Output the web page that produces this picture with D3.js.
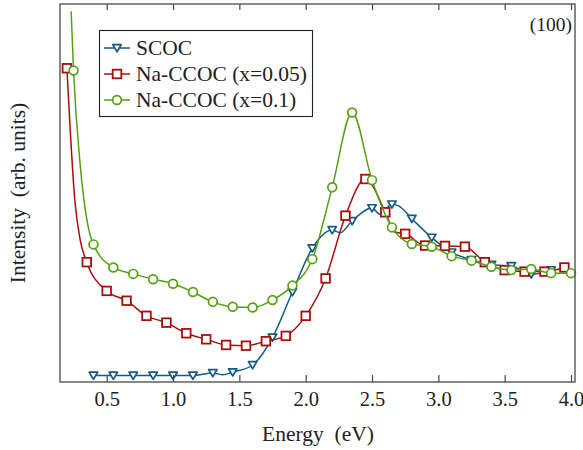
<!DOCTYPE html>
<html><head><meta charset="utf-8">
<script src="https://cdn.jsdelivr.net/npm/d3@7"></script>
<style>
body{margin:0;background:#fff;}
svg{display:block;}
svg text{font-family:"Liberation Serif","DejaVu Serif",serif;fill:#222;}
</style>
</head><body>
<svg id="c" width="583" height="450"></svg>
<script>
// ---- data ----
const xTicks = [0.5, 1.0, 1.5, 2.0, 2.5, 3.0, 3.5, 4.0];
const seriesNames = ["SCOC", "Na-CCOC (x=0.05)", "Na-CCOC (x=0.1)"];

// SCOC markers
const scocE = [0.40,0.55,0.70,0.85,1.00,1.15,1.30,1.45,1.60,1.75,1.90,2.05,2.20,2.35,2.50,2.65,2.80,2.95,3.10,3.25,3.40,3.55,3.70,3.85];
const scocI = [0.017,0.017,0.017,0.017,0.017,0.017,0.024,0.026,0.045,0.118,0.238,0.354,0.402,0.426,0.460,0.470,0.432,0.382,0.343,0.323,0.310,0.307,0.285,0.296];
// extra (unmarked) line points
const scocLineE = [1.375, 2.26, 2.56, 2.70];
const scocLineI = [0.019, 0.395, 0.444, 0.466];

// Na-CCOC x=0.05 markers
const na05E = [0.20,0.35,0.50,0.65,0.80,0.95,1.10,1.25,1.40,1.55,1.70,1.85,2.00,2.15,2.30,2.45,2.60,2.75,2.90,3.05,3.20,3.35,3.50,3.65,3.80,3.95];
const na05I = [0.830,0.317,0.241,0.215,0.175,0.157,0.129,0.113,0.098,0.096,0.108,0.122,0.175,0.274,0.440,0.537,0.449,0.392,0.361,0.360,0.358,0.317,0.296,0.292,0.292,0.303];
const na05LineE = [0.225, 0.26, 0.30, 2.67];
const na05LineI = [0.667, 0.480, 0.376, 0.397];

// Na-CCOC x=0.1 markers
const na10E = [0.25,0.40,0.55,0.70,0.85,1.00,1.15,1.30,1.45,1.60,1.75,1.90,2.05,2.20,2.35,2.50,2.65,2.80,2.95,3.10,3.25,3.40,3.55,3.70,3.85,4.00];
const na10I = [0.824,0.364,0.303,0.286,0.272,0.260,0.238,0.212,0.199,0.197,0.217,0.255,0.325,0.515,0.713,0.534,0.409,0.365,0.358,0.333,0.321,0.305,0.296,0.299,0.288,0.288];
const na10LineE = [0.232, 0.30, 0.35];
const na10LineI = [0.981, 0.575, 0.430];

const colors = ["#135a84", "#a5100f", "#55a114"];

// ---- chart ----
const svg = d3.select("#c");
const L = 60, R = 575, T = 4, B = 382;
const x = d3.scaleLinear().domain([0.148, 4.03]).range([L, R]);
const y = d3.scaleLinear().domain([0, 1]).range([B, T]);

function merge(e, v, le, lv) {
  const pts = e.map((d, i) => [d, v[i]]).concat(le.map((d, i) => [d, lv[i]]));
  return pts.sort((a, b) => a[0] - b[0]);
}
const series = [
  {name: seriesNames[0], color: colors[0], marker: "tri", m: scocE.map((d,i)=>[d,scocI[i]]), line: merge(scocE, scocI, scocLineE, scocLineI)},
  {name: seriesNames[1], color: colors[1], marker: "sq", m: na05E.map((d,i)=>[d,na05I[i]]), line: merge(na05E, na05I, na05LineE, na05LineI)},
  {name: seriesNames[2], color: colors[2], marker: "circ", m: na10E.map((d,i)=>[d,na10I[i]]), line: merge(na10E, na10I, na10LineE, na10LineI)}
];

const line = d3.line().x(d => x(d[0])).y(d => y(d[1])).curve(d3.curveMonotoneX);

function drawMarker(g, type, cx, cy, color) {
  if (type === "tri") {
    const s = 4.2;
    g.append("path").attr("d", `M${cx-s},${cy-s*0.8}L${cx+s},${cy-s*0.8}L${cx},${cy+s*0.9}Z`)
      .attr("fill", "#fff").attr("stroke", color).attr("stroke-width", 1.7).attr("stroke-linejoin","round");
  } else if (type === "sq") {
    g.append("rect").attr("x", cx-4.3).attr("y", cy-4.3).attr("width", 8.6).attr("height", 8.6)
      .attr("fill", "#fff").attr("stroke", color).attr("stroke-width", 1.8);
  } else {
    g.append("circle").attr("cx", cx).attr("cy", cy).attr("r", 4.4)
      .attr("fill", "#fff").attr("stroke", color).attr("stroke-width", 1.7);
  }
}

const plot = svg.append("g");
series.forEach(s => {
  plot.append("path").datum(s.line).attr("d", line).attr("fill", "none")
    .attr("stroke", s.color).attr("stroke-width", 1.5);
  const g = plot.append("g");
  s.m.forEach(p => drawMarker(g, s.marker, x(p[0]), y(p[1]), s.color));
});

// axes (ticks inward)
const axB = svg.append("g").attr("transform", `translate(0,${B})`)
  .call(d3.axisBottom(x).tickValues(xTicks).tickSize(-7).tickPadding(9.5).tickFormat(d3.format(".1f")));
axB.attr("font-family", null).attr("font-size", null);
axB.select(".domain").remove();
axB.selectAll("line").attr("stroke", "#444").attr("stroke-width", 1.2);
axB.selectAll("text").style("font-size", "20.5px").style("font-family", '"Liberation Serif", serif');

const axT = svg.append("g").attr("transform", `translate(0,${T})`)
  .call(d3.axisTop(x).tickValues(xTicks).tickSize(-6).tickFormat(""));
axT.select(".domain").remove();
axT.selectAll("line").attr("stroke", "#444").attr("stroke-width", 1.2);

// frame
svg.append("rect").attr("x", L).attr("y", T).attr("width", R - L).attr("height", B - T)
  .attr("fill", "none").attr("stroke", "#555").attr("stroke-width", 1.4);

// labels
svg.append("text").attr("x", (L + R) / 2 + 0.5).attr("y", 441).attr("text-anchor", "middle")
  .style("font-size", "21.5px").text("Energy\u00a0\u00a0(eV)");
svg.append("text").attr("transform", `translate(25,${(T + B) / 2}) rotate(-90)`).attr("text-anchor", "middle")
  .style("font-size", "21.5px").text("Intensity\u00a0\u00a0(arb.\u00a0units)");
svg.append("text").attr("x", 572).attr("y", 31).attr("text-anchor", "end")
  .style("font-size", "19.5px").text("(100)");

// legend
const lg = svg.append("g");
lg.append("rect").attr("x", 99.5).attr("y", 30.5).attr("width", 213).attr("height", 86)
  .attr("fill", "#fff").attr("stroke", "#222").attr("stroke-width", 1.1);
const rowsY = [48, 74, 100];
series.forEach((s, i) => {
  const yy = rowsY[i];
  lg.append("line").attr("x1", 104).attr("x2", 130).attr("y1", yy).attr("y2", yy)
    .attr("stroke", s.color).attr("stroke-width", 1.5);
  drawMarker(lg, s.marker, 117, yy, s.color);
  lg.append("text").attr("x", 136).attr("y", yy + 7).style("font-size", "21.5px").text(s.name);
});
</script>
</body></html>
